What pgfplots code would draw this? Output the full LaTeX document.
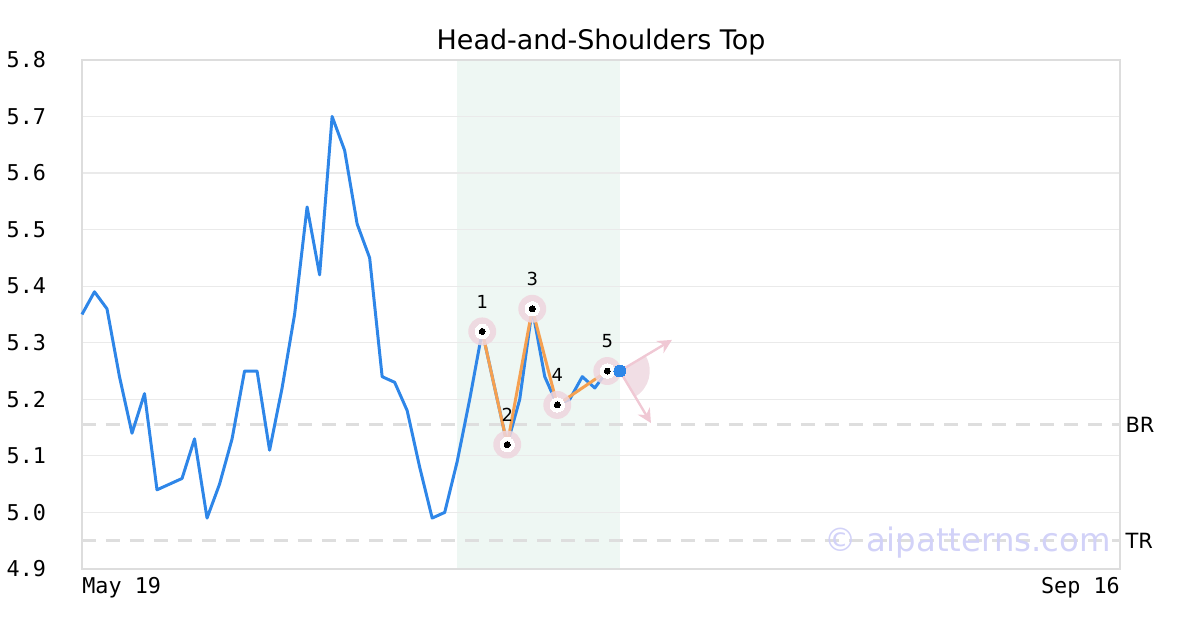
\documentclass[border=0pt]{standalone}
\usepackage{fontspec}
\setmainfont{DejaVu Sans}
\newfontfamily\monofont{DejaVu Sans Mono}
\usepackage{pgfplots}
\pgfplotsset{compat=1.18}
\usetikzlibrary{arrows.meta}
\definecolor{cblue}{RGB}{46,134,232}
\definecolor{corange}{RGB}{245,160,80}
\definecolor{chalo}{RGB}{238,214,222}
\definecolor{cshade}{RGB}{238,247,243}
\definecolor{cframe}{RGB}{221,221,221}
\definecolor{cgrid}{RGB}{234,234,234}
\definecolor{cdash}{RGB}{222,222,222}
\definecolor{cwater}{RGB}{210,210,248}
\definecolor{carrow}{RGB}{240,200,212}
\begin{document}
\begin{tikzpicture}
\begin{axis}[
  at={(40pt,30pt)}, anchor=south west,
  scale only axis, width=520pt, height=255pt,
  xmin=0, xmax=83, ymin=4.9, ymax=5.8,
  set layers, clip=false,
  axis line style={draw=cframe, line width=1pt},
  xtick=\empty,
  ytick={4.9,5.0,5.1,5.2,5.3,5.4,5.5,5.6,5.7,5.8},
  ymajorgrids, grid style={cgrid, line width=0.6pt},
  major tick length=0pt,
  /pgf/number format/assume math mode=true,
  yticklabel style={font=\monofont\fontsize{10.9}{12}\selectfont, xshift=-14.5pt,
    /pgf/number format/fixed, /pgf/number format/fixed zerofill, /pgf/number format/precision=1},
]
% shaded pattern window
\addplot[fill=cshade, draw=none, on layer=axis background] coordinates {(30,4.9) (43,4.9) (43,5.8) (30,5.8)};
% BR / TR dashed lines
\addplot[cdash, line width=1.5pt, dash pattern=on 7pt off 5pt] coordinates {(0,5.155) (83,5.155)};
\addplot[cdash, line width=1.5pt, dash pattern=on 7pt off 5pt] coordinates {(0,4.95) (83,4.95)};
% watermark
\node[anchor=east, inner sep=0, text=cwater, font=\fontsize{16.2}{18}\selectfont] at (axis cs:83,4.95) [xshift=-4.5pt, yshift=-1pt] {© aipatterns.com};
% price line
\addplot[cblue, line width=1.5pt, line join=round] coordinates {
(0,5.35) (1,5.39) (2,5.36) (3,5.24) (4,5.14) (5,5.21) (6,5.04) (7,5.05) (8,5.06) (9,5.13)
(10,4.99) (11,5.05) (12,5.13) (13,5.25) (14,5.25) (15,5.11) (16,5.22) (17,5.35) (18,5.54) (19,5.42)
(20,5.70) (21,5.64) (22,5.51) (23,5.45) (24,5.24) (25,5.23) (26,5.18) (27,5.08) (28,4.99) (29,5.00)
(30,5.09) (31,5.20) (32,5.32) (33,5.22) (34,5.12) (35,5.20) (36,5.36) (37,5.24) (38,5.19) (39,5.20)
(40,5.24) (41,5.22) (42,5.25) (43,5.25)};
% projection wedge and arrows
\fill[chalo, opacity=0.8] (axis cs:43,5.25) -- ++(-59:15pt) arc[start angle=-59, end angle=30.5, radius=15pt] -- cycle;
\draw[carrow, line width=1.2pt, -{Stealth[length=7pt,width=7pt]}] (axis cs:43,5.25) -- (axis cs:47.17,5.305);
\draw[carrow, line width=1.2pt, -{Stealth[length=7pt,width=7pt]}] (axis cs:43,5.25) -- (axis cs:45.49,5.158);
% halos
\addplot[only marks, mark=*, color=chalo, mark size=7pt, mark options={fill=chalo, draw=chalo, fill opacity=0.85, draw opacity=0}] coordinates {
(32,5.32) (34,5.12) (36,5.36) (38,5.19) (42,5.25)};
% pattern line
\addplot[corange, line width=1.5pt] coordinates {
(32,5.32) (34,5.12) (36,5.36) (38,5.19) (42,5.25)};
\addplot[only marks, mark=*, color=white, mark size=3.6pt, mark options={fill=white, draw=white, line width=0pt}] coordinates {
(32,5.32) (34,5.12) (36,5.36) (38,5.19) (42,5.25)};
\addplot[only marks, mark=*, color=black, mark size=1.5pt, mark options={fill=black, draw=black, line width=0pt}] coordinates {
(32,5.32) (34,5.12) (36,5.36) (38,5.19) (42,5.25)};
% last price dot
\addplot[only marks, mark=*, color=cblue, mark size=3pt, mark options={fill=cblue, draw=cblue, line width=0pt}] coordinates {(43,5.25)};
% point labels
\node[font=\fontsize{9}{10}\selectfont, inner sep=0] at (axis cs:32,5.32) [yshift=15pt] {1};
\node[font=\fontsize{9}{10}\selectfont, inner sep=0] at (axis cs:34,5.12) [yshift=15pt] {2};
\node[font=\fontsize{9}{10}\selectfont, inner sep=0] at (axis cs:36,5.36) [yshift=15pt] {3};
\node[font=\fontsize{9}{10}\selectfont, inner sep=0] at (axis cs:38,5.19) [yshift=15pt] {4};
\node[font=\fontsize{9}{10}\selectfont, inner sep=0] at (axis cs:42,5.25) [yshift=15pt] {5};
% BR / TR labels
\node[anchor=west, inner sep=0, font=\fontsize{10.5}{12}\selectfont] at (axis cs:83,5.155) [xshift=2.5pt] {BR};
\node[anchor=west, inner sep=0, font=\fontsize{10.5}{12}\selectfont] at (axis cs:83,4.95) [xshift=2.5pt] {TR};
% x labels
\node[anchor=north west, inner sep=0, font=\monofont\fontsize{10.9}{12}\selectfont] at (rel axis cs:0,0) [yshift=-4pt] {May 19};
\node[anchor=north east, inner sep=0, font=\monofont\fontsize{10.9}{12}\selectfont] at (rel axis cs:1,0) [yshift=-4pt] {Sep 16};
% title
\node[anchor=base, inner sep=0, font=\fontsize{13.5}{15}\selectfont] at (rel axis cs:0.5,1) [yshift=5pt] {Head-and-Shoulders Top};
\end{axis}
\path (0,0) rectangle (600pt,315pt);
\end{tikzpicture}
\end{document}
